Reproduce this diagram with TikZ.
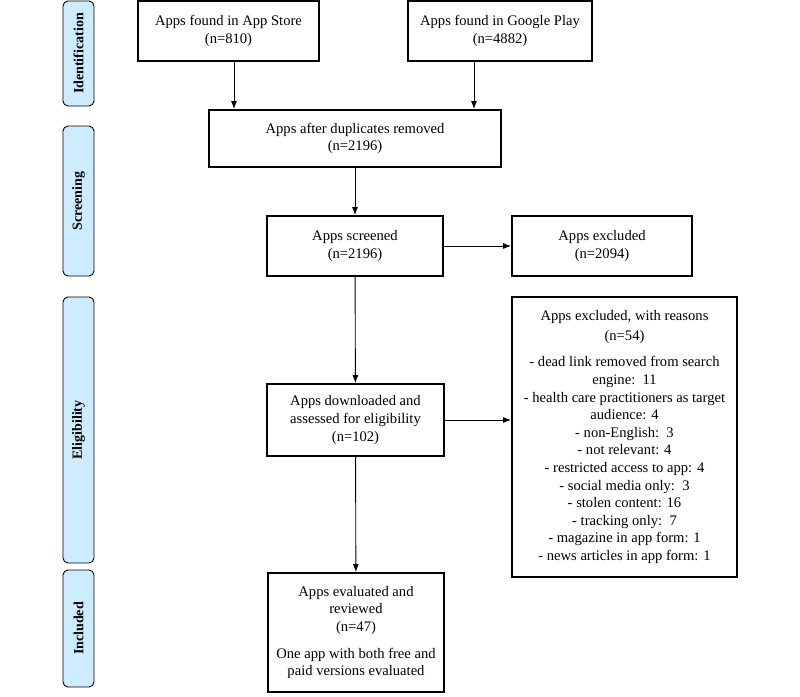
\documentclass[tikz,border=0pt]{standalone}
\usepackage{fontspec}
\setmainfont{Liberation Serif}
\usetikzlibrary{arrows.meta}
\definecolor{phase}{RGB}{206,236,255}
\tikzset{
  box/.style={draw,line width=1.8pt,align=center,inner sep=2pt,
    font=\fontsize{14.6}{17.6}\selectfont},
  phasebox/.style={draw,line width=0.9pt,rounded corners=5pt,fill=phase,
    rotate=90,minimum height=31pt,inner sep=0pt,
    font=\fontsize{14}{16}\selectfont\bfseries},
  arr/.style={-{Latex[length=8pt,width=6pt]},line width=0.9pt}
}
\begin{document}
\begin{tikzpicture}[x=1pt,y=-1pt]
\useasboundingbox (0,0) rectangle (800,696);
% phases
\node (P1) [phasebox,minimum width=105pt] at (78.5,53.5) {Identification};
\node (P2) [phasebox,minimum width=150pt] at (78.5,201) {Screening};
\node (P3) [phasebox,minimum width=266pt] at (78.5,430) {Eligibility};
\node (P4) [phasebox,minimum width=117pt] at (78.5,628.5) {Included};

% boxes
\node (store) [box,minimum width=181pt,minimum height=60pt] at (228.5,31)
  {Apps found in App Store\\(n=810)};
\node (google) [box,minimum width=184pt,minimum height=60pt] at (500,31)
  {Apps found in Google Play\\(n=4882)};
\node (dup) [box,minimum width=292pt,minimum height=57pt] at (355,138.5)
  {Apps after duplicates removed\\(n=2196)};
\node (screen) [box,minimum width=176pt,minimum height=60pt] at (355,246)
  {Apps screened\\(n=2196)};
\node (excl) [box,minimum width=180pt,minimum height=60pt] at (602,246)
  {Apps excluded\\(n=2094)};
\node (down) [box,minimum width=177pt,minimum height=72pt] at (355.5,420)
  {Apps downloaded and\\assessed for eligibility\\(n=102)};
\node (reasons) [box,minimum width=225pt,minimum height=280pt] at (624.5,437)
  {Apps excluded, with reasons\\[2pt](n=54)\\[9pt]
   - dead link removed from search\\engine:\ \ 11\\
   - health care practitioners as target\\audience: 4\\
   - non-English:\ \ 3\\
   - not relevant: 4\\
   - restricted access to app: 4\\
   - social media only:\ \ 3\\
   - stolen content: 16\\
   - tracking only:\ \ 7\\
   - magazine in app form: 1\\
   - news articles in app form: 1};
\node (eval) [box,minimum width=176pt,minimum height=119pt] at (356,632.5)
  {Apps evaluated and\\reviewed\\(n=47)\\[9pt]
   One app with both free and\\paid versions evaluated};

% connectors
\draw [arr] ([xshift=5.5pt]store.south) -- ([xshift=5.5pt]store.south |- dup.north);
\draw [arr] ([xshift=-26pt]google.south) -- ([xshift=-26pt]google.south |- dup.north);
\draw [arr] (dup) -- (screen);
\draw [arr] (screen) -- (excl);
\draw [arr] (screen) -- (down);
\draw [arr] (down.east) -- (down.east -| reasons.west);
\draw [arr] (down) -- (eval);
\end{tikzpicture}
\end{document}
